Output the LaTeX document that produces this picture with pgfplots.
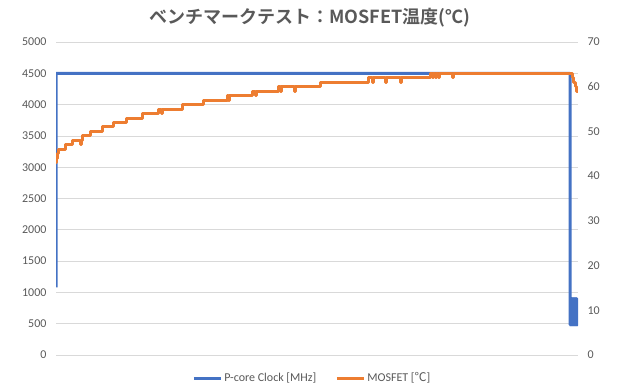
\documentclass[border=0pt]{standalone}
\usepackage{pgfplots}
\pgfplotsset{compat=1.18}
\usepackage{fontspec}
\setmainfont{Carlito}
\newfontfamily\cjk{Noto Sans CJK JP}[BoldFont={Noto Sans CJK JP Bold}]
\definecolor{cblue}{HTML}{4472C4}
\definecolor{corange}{HTML}{ED7D31}
\definecolor{tgray}{HTML}{595959}
\definecolor{ggray}{HTML}{D9D9D9}
\begin{document}
\begin{tikzpicture}[x=1pt,y=1pt]
\path[use as bounding box] (0,0) rectangle (620,390);
\node[font=\cjk\bfseries\fontsize{18}{20}\selectfont, text=tgray] at (310,372) {ベンチマークテスト：MOSFET温度(℃)};
\pgfplotsset{every axis/.append style={scale only axis, width=522pt, height=313pt,
  at={(56pt,35pt)}, anchor=south west, xmin=56, xmax=578, xtick=\empty,
  axis line style={draw=none}, tick style={draw=none},
  ticklabel style={font=\fontsize{12}{14}\selectfont, text=tgray},
  /pgf/number format/assume math mode=true, /pgf/number format/1000 sep={}}}
\begin{axis}[ymin=0, ymax=5000, ytick={0,500,...,5000}, ymajorgrids,
  grid style={ggray, line width=0.75pt},
  yticklabel style={anchor=east, xshift=-6pt}]
\addplot[cblue, line width=3pt, line join=round] coordinates {
(56,1080)(56.2,4500)(570,4500)(570.2,480)(570.7,900)(571.2,480)(571.7,900)(572.2,480)(572.7,900)(573.2,480)(573.7,900)(574.2,480)(574.7,900)(575.2,480)(575.7,900)(576.2,480)(576.7,900)(577.2,480)(577.5,900)
};
\end{axis}
\begin{axis}[axis y line*=right, ymin=0, ymax=70, ytick={0,10,...,70},
  yticklabel style={anchor=west, xshift=6pt},
  legend style={at={(0.491,-0.0735)}, anchor=center, draw=none, fill=none,
    legend columns=2, font=\fontsize{12}{14}\selectfont, text=tgray,
    /tikz/every even column/.append style={column sep=17pt}},
  legend cell align=left,
  legend image code/.code={\draw[#1, line width=3pt] (0pt,0pt) -- (27pt,0pt);}]
\addlegendimage{cblue, line width=3pt}
\addlegendentry{P-core Clock [MHz]}
\addplot[corange, line width=3pt, const plot, line join=round] coordinates {
(56,43)(56.7,44)(57.3,45)(58,46)(65,47)(72,48)(80,47)(81.5,48)(82,49)(90,50)(102,51)(113,52)(126,53)(142,54)(158,55)(161,54)(162.5,55)(182,56)(203,57)(227,58)(228,57)(229.5,58)(252,59)(255,58)(256.5,59)(278,60)(280,59)(281.5,60)(294,59)(295.5,60)(320,61)(368,62)(372,61)(373.5,62)(385,61)(386.5,62)(400,61)(401.5,62)(430,63)(432,62)(433,63)(435,62)(436,63)(438,62)(439,63)(452,62)(453.5,63)(570,63)(572,62)(573.5,61)(575,60)(576.5,59)(578,59)
};
\addlegendentry{MOSFET [{\cjk ℃}]}
\end{axis}
\end{tikzpicture}
\end{document}
